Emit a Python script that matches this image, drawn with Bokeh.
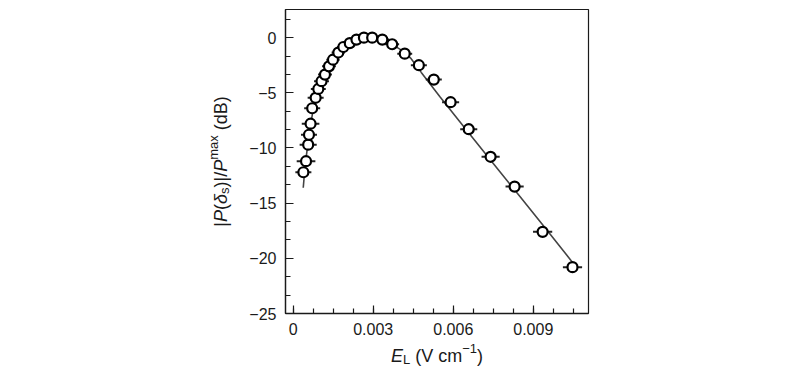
import numpy as np
from bokeh.plotting import figure
from bokeh.models import Range1d, FixedTicker
from bokeh.core.properties import value
from bokeh.embed import file_html
from bokeh.resources import INLINE

# ---- data ----
e_l = [0.00038, 0.00048, 0.00056, 0.00059, 0.00065, 0.00071, 0.00084, 0.00094,
       0.00106, 0.00119, 0.00134, 0.00149, 0.00169, 0.00188, 0.00212, 0.00237,
       0.00265, 0.00296, 0.00334, 0.00371, 0.00418, 0.00471, 0.00527, 0.00590,
       0.00658, 0.00740, 0.00830, 0.00935, 0.01047]
p_db = [-12.2, -11.2, -9.7, -8.8, -7.8, -6.4, -5.45, -4.65, -3.95, -3.35, -2.6,
        -2.0, -1.35, -0.85, -0.5, -0.18, 0.0, 0.0, -0.18, -0.6, -1.45, -2.5,
        -3.8, -5.85, -8.3, -10.8, -13.5, -17.6, -20.8]
e_err = [0.00030, 0.00035, 0.00032, 0.00030, 0.00033, 0.00030, 0.00030, 0.00028,
         0.00028, 0.00026, 0.00026, 0.00025, 0.00025, 0.00024, 0.00024, 0.00024,
         0.00024, 0.00024, 0.00026, 0.00026, 0.00028, 0.00030, 0.00030, 0.00032,
         0.00032, 0.00034, 0.00034, 0.00036, 0.00036]

fit_x = [0.000375, 0.00045, 0.00055, 0.00065, 0.00075, 0.0009, 0.00105, 0.0012,
         0.0014, 0.0016, 0.0018, 0.0020, 0.0023, 0.0026, 0.0029, 0.0032, 0.0035,
         0.0038, 0.0041, 0.0044, 0.0048, 0.0055, 0.0065, 0.0075, 0.0085, 0.0095,
         0.01045]
fit_y = [-13.6, -11.5, -9.6, -7.9, -6.5, -5.0, -3.95, -3.2, -2.35, -1.65, -1.1,
         -0.65, -0.25, -0.05, 0.0, -0.1, -0.35, -0.75, -1.2, -1.85, -3.15, -5.35,
         -8.4, -11.4, -14.4, -17.4, -20.3]

x_ticks = [0.0, 0.003, 0.006, 0.009]
x_tick_labels = ["0", "0.003", "0.006", "0.009"]
y_ticks = [0, -5, -10, -15, -20, -25]
y_tick_labels = ["0", "\u22125", "\u221210", "\u221215", "\u221220", "\u221225"]

X0, X1 = -0.00029, 0.01107
Y0, Y1 = -25.0, 2.55

FONT = "Liberation Sans"
INK = "#1a1a1a"

W, H = 790, 368
ML, MR, MT, MB = 285, 202, 9, 55
FW, FH = W - ML - MR, H - MT - MB

p = figure(width=W, height=H, output_backend="svg", toolbar_location=None,
           x_range=Range1d(X0, X1), y_range=Range1d(Y0, Y1),
           min_border_left=ML, min_border_right=MR, min_border_top=MT,
           min_border_bottom=MB)
p.grid.visible = False
p.outline_line_color = INK
p.outline_line_width = 1.2
p.background_fill_color = "white"
p.border_fill_color = "white"

# axes
x_minor = list(np.round(np.arange(0.0, 0.0111, 0.00075), 6))
y_minor = list(np.round(np.arange(-25.0, 2.5, 5.0 / 3.0), 4))
p.xaxis.ticker = FixedTicker(ticks=x_ticks, minor_ticks=x_minor)
p.yaxis.ticker = FixedTicker(ticks=y_ticks, minor_ticks=y_minor)
p.xaxis.major_label_overrides = dict(zip(x_ticks, x_tick_labels))
p.yaxis.major_label_overrides = dict(zip(y_ticks, y_tick_labels))
for ax in (p.xaxis, p.yaxis):
    ax.major_tick_in = 8
    ax.major_tick_out = 0
    ax.minor_tick_in = 5
    ax.minor_tick_out = 0
    ax.axis_line_color = INK
    ax.axis_line_width = 1.3
    ax.major_tick_line_color = INK
    ax.minor_tick_line_color = INK
    ax.major_tick_line_width = 1.2
    ax.minor_tick_line_width = 1.2
    ax.major_label_text_font = FONT
    ax.major_label_text_font_size = "16px"
    ax.major_label_text_color = INK
    ax.axis_label = None
p.xaxis.major_label_standoff = 9
p.yaxis.major_label_standoff = 9

# fitted curve, error bars, points
p.line(fit_x, fit_y, line_color="#444444", line_width=1.6)
x_lo = [a - b for a, b in zip(e_l, e_err)]
x_hi = [a + b for a, b in zip(e_l, e_err)]
p.segment(x0=x_lo, y0=p_db, x1=x_hi, y1=p_db, line_color="#222222", line_width=2)
p.scatter(e_l, p_db, size=10, marker="circle", fill_color="white",
          line_color="black", line_width=2.2)

# ---- axis titles built from text runs (rich text: italics, sub/superscripts) ----
WIDTHS = {'|': 0.26, 'P': 0.667, '(': 0.333, ')': 0.333, '\u03b4': 0.556,
          's': 0.5, '/': 0.278, ' ': 0.278, 'd': 0.556, 'B': 0.667, 'm': 0.833,
          'a': 0.556, 'x': 0.5, 'E': 0.667, 'L': 0.556, 'V': 0.667, 'c': 0.5,
          '\u2212': 0.584, '1': 0.556}


def tw(s, fs):
    return sum(WIDTHS.get(ch, 0.556) for ch in s) * fs


def run_len(pieces):
    return sum(tw(t, fs) for t, fs, st, sh in pieces)


def sx_to_x(sx):
    return X0 + (sx - ML) / FW * (X1 - X0)


def sy_to_y(sy):
    return Y0 + (MT + FH - sy) / FH * (Y1 - Y0)


def add_run(pieces, sx0, sy0, vertical=False):
    pos = 0.0
    for txt, fs, style, shift in pieces:
        stripped = txt.lstrip(" ")
        pos += tw(txt[:len(txt) - len(stripped)], fs)
        if vertical:
            sx, sy, ang = sx0 + shift, sy0 - pos, np.pi / 2
        else:
            sx, sy, ang = sx0 + pos, sy0 + shift, 0.0
        p.text(x=[sx_to_x(sx)], y=[sy_to_y(sy)], text=[stripped], angle=ang,
               text_font=value(FONT), text_font_size=value(f"{fs}px"),
               text_font_style=value(style), text_color=INK,
               text_align="left", text_baseline="alphabetic", level="overlay")
        pos += tw(stripped, fs)


BIG, SMALL = 18, 13
x_title = [("E", BIG, "italic", 0), ("L", SMALL, "normal", 4),
           (" (V cm", BIG, "normal", 0), ("\u22121", SMALL, "normal", -7),
           (")", BIG, "normal", 0)]
y_title = [("|", BIG, "normal", 0), ("P", BIG, "italic", 0), ("(", BIG, "normal", 0),
           ("\u03b4", BIG, "italic", 0), ("s", SMALL, "normal", 4),
           (")|/", BIG, "normal", 0), ("P", BIG, "italic", 0),
           ("max", SMALL, "normal", -7), (" (dB)", BIG, "normal", 0)]

add_run(x_title, ML + FW / 2 - run_len(x_title) / 2, 355)
add_run(y_title, 220, MT + FH / 2 + run_len(y_title) / 2, vertical=True)

open("out.html", "w").write(file_html(p, INLINE))
